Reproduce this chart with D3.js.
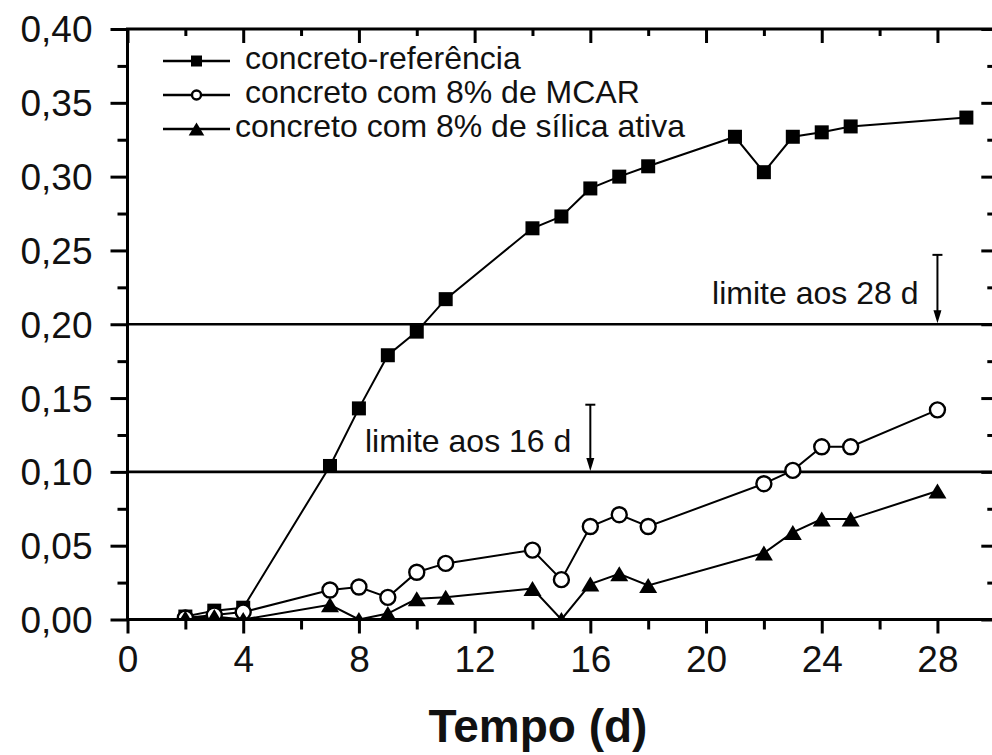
<!DOCTYPE html>
<html>
<head>
<meta charset="utf-8">
<script src="https://cdn.jsdelivr.net/npm/d3@7"></script>
<style>
  html, body { margin: 0; padding: 0; background: #fff; }
  svg { display: block; font-family: "Liberation Sans", Arial, sans-serif; }
</style>
</head>
<body>
<svg id="chart" width="992" height="755"></svg>
<script>
// ---------------- data ----------------
const daysRef  = [2, 3, 4, 7, 8, 9, 10, 11, 14, 15, 16, 17, 18, 21, 22, 23, 24, 25, 29];
const valsRef  = [0.002, 0.006, 0.008, 0.104, 0.143, 0.179, 0.195, 0.217, 0.265, 0.273, 0.292, 0.300, 0.307, 0.327, 0.303, 0.327, 0.330, 0.334, 0.340];

const daysMcar = [2, 3, 4, 7, 8, 9, 10, 11, 14, 15, 16, 17, 18, 22, 23, 24, 25, 28];
const valsMcar = [0.001, 0.003, 0.005, 0.020, 0.022, 0.015, 0.032, 0.038, 0.047, 0.027, 0.063, 0.071, 0.063, 0.092, 0.101, 0.117, 0.117, 0.142];

const daysSil  = [2, 3, 4, 7, 8, 9, 10, 11, 14, 15, 16, 17, 18, 22, 23, 24, 25, 28];
const valsSil  = [0.001, 0.002, 0.000, 0.010, 0.000, 0.004, 0.014, 0.015, 0.021, 0.000, 0.024, 0.031, 0.023, 0.045, 0.059, 0.068, 0.068, 0.087];

const seriesNames = ["concreto-referência", "concreto com 8% de MCAR", "concreto com 8% de sílica ativa"];
const seriesMarkers = ["square", "circle", "triangle"];

const xMajorTicks = [0, 4, 8, 12, 16, 20, 24, 28];
const xMinorTicks = [2, 6, 10, 14, 18, 22, 26];
const yMajorTicks = [0, 0.05, 0.10, 0.15, 0.20, 0.25, 0.30, 0.35, 0.40];
const yMinorTicks = [0.025, 0.075, 0.125, 0.175, 0.225, 0.275, 0.325, 0.375];

const limitValues = [0.20, 0.10];
const limitDays   = [28, 16];
const limitArrowTop = [0.247, 0.1455];
const limitLabels = ["limite aos 28 d", "limite aos 16 d"];

const xTitle = "Tempo (d)";

// ---------------- layout ----------------
const L = 127.5, R = 995.3, T = 29, B = 619.5;
const x = d3.scaleLinear().domain([0, 30]).range([L, R]);
const y = d3.scaleLinear().domain([0, 0.40]).range([B, T]);

const svg = d3.select("#chart");
const fmt = d => d.toFixed(2).replace(".", ",");

// clip for plot area
svg.append("defs").append("clipPath").attr("id", "plotclip")
  .append("rect").attr("x", L).attr("y", T).attr("width", R - L).attr("height", B - T);

// limit lines
limitValues.forEach((v, i) => {
  svg.append("line")
    .attr("x1", L).attr("x2", R).attr("y1", y(v)).attr("y2", y(v))
    .attr("stroke", "#000").attr("stroke-width", 2.6);
  const ax = x(limitDays[i]);
  const yTop = y(limitArrowTop[i]);
  const yBot = y(v);
  svg.append("line").attr("x1", ax).attr("x2", ax).attr("y1", yTop).attr("y2", yBot - 6)
    .attr("stroke", "#000").attr("stroke-width", 2);
  svg.append("line").attr("x1", ax - 5).attr("x2", ax + 5).attr("y1", yTop).attr("y2", yTop)
    .attr("stroke", "#000").attr("stroke-width", 2);
  svg.append("path")
    .attr("d", `M${ax - 4},${yBot - 14} L${ax + 4},${yBot - 14} L${ax},${yBot - 1} Z`)
    .attr("fill", "#000");
  svg.append("text")
    .attr("x", ax - 19).attr("y", yBot - 20)
    .attr("text-anchor", "end")
    .attr("font-size", 32).attr("fill", "#111")
    .text(limitLabels[i]);
});

// markers
function drawMarker(g, type, cx, cy, s) {
  if (type === "square") {
    g.append("rect").attr("x", cx - s / 2).attr("y", cy - s / 2).attr("width", s).attr("height", s)
      .attr("fill", "#000");
  } else if (type === "circle") {
    g.append("circle").attr("cx", cx).attr("cy", cy).attr("r", s / 2)
      .attr("fill", "#fff").attr("stroke", "#000").attr("stroke-width", 2.4);
  } else {
    const w = s * 1.2, h = s * 1.0;
    g.append("path")
      .attr("d", `M${cx - w / 2},${cy + h / 2} L${cx + w / 2},${cy + h / 2} L${cx},${cy - h / 2} Z`)
      .attr("fill", "#000");
  }
}

const series = [
  { days: daysRef, vals: valsRef, marker: seriesMarkers[0] },
  { days: daysMcar, vals: valsMcar, marker: seriesMarkers[1] },
  { days: daysSil, vals: valsSil, marker: seriesMarkers[2] }
];

const plot = svg.append("g").attr("clip-path", "url(#plotclip)");
const line = d3.line().x(d => x(d[0])).y(d => y(d[1]));
series.forEach(s => {
  const pts = s.days.map((d, i) => [d, s.vals[i]]);
  plot.append("path").attr("d", line(pts))
    .attr("fill", "none").attr("stroke", "#000").attr("stroke-width", 2);
});
series.forEach(s => {
  const g = plot.append("g");
  s.days.forEach((d, i) => {
    drawMarker(g, s.marker, x(d), y(s.vals[i]), s.marker === "square" ? 14 : (s.marker === "circle" ? 15 : 15));
  });
});

// axes
function styleAxis(g) {
  g.select(".domain").remove();
  g.selectAll(".tick line").attr("stroke", "#000").attr("stroke-width", 3);
  g.selectAll(".tick text").attr("fill", "#111").attr("font-size", 37)
    .attr("font-family", "'Liberation Sans', Arial, sans-serif");
}
svg.append("g").attr("transform", `translate(0,${B})`)
  .call(d3.axisBottom(x).tickValues(xMajorTicks).tickSize(14).tickPadding(12).tickFormat(d3.format("d")))
  .call(styleAxis);
svg.append("g").attr("transform", `translate(0,${B})`)
  .call(d3.axisBottom(x).tickValues(xMinorTicks).tickSize(10).tickFormat(""))
  .call(styleAxis);
svg.append("g").attr("transform", `translate(0,${T})`)
  .call(d3.axisTop(x).tickValues(xMajorTicks).tickSize(-14).tickFormat(""))
  .call(styleAxis);
svg.append("g").attr("transform", `translate(0,${T})`)
  .call(d3.axisTop(x).tickValues(xMinorTicks).tickSize(-7).tickFormat(""))
  .call(styleAxis);
svg.append("g").attr("transform", `translate(${L},0)`)
  .call(d3.axisLeft(y).tickValues(yMajorTicks).tickSize(17).tickPadding(18).tickFormat(fmt))
  .call(styleAxis)
  .call(g => g.selectAll(".tick text").attr("dy", "0.35em"));
svg.append("g").attr("transform", `translate(${L},0)`)
  .call(d3.axisLeft(y).tickValues(yMinorTicks).tickSize(10).tickFormat(""))
  .call(styleAxis);
svg.append("g").attr("transform", `translate(${R},0)`)
  .call(d3.axisRight(y).tickValues(yMajorTicks).tickSize(-14).tickFormat(""))
  .call(styleAxis);
svg.append("g").attr("transform", `translate(${R},0)`)
  .call(d3.axisRight(y).tickValues(yMinorTicks).tickSize(-8).tickFormat(""))
  .call(styleAxis);

// frame
svg.append("rect").attr("x", L).attr("y", T).attr("width", R - L).attr("height", B - T)
  .attr("fill", "none").attr("stroke", "#000").attr("stroke-width", 3);

// legend
const legendY = [61, 95, 129];
const legendTextX = [245, 245, 235];
seriesNames.forEach((name, i) => {
  const g = svg.append("g");
  g.append("line").attr("x1", 163).attr("x2", 230).attr("y1", legendY[i]).attr("y2", legendY[i])
    .attr("stroke", "#000").attr("stroke-width", 2.4);
  const m = seriesMarkers[i];
  drawMarker(g, m, 196.5, legendY[i], m === "square" ? 11 : (m === "circle" ? 9 : 13));
  g.append("text").attr("x", legendTextX[i]).attr("y", legendY[i] + 8)
    .attr("font-size", 32).attr("fill", "#111").text(name);
});

// x title
svg.append("text").attr("x", 538).attr("y", 742).attr("text-anchor", "middle")
  .attr("font-size", 46).attr("font-weight", "bold").attr("fill", "#111").text(xTitle);
</script>
</body>
</html>
